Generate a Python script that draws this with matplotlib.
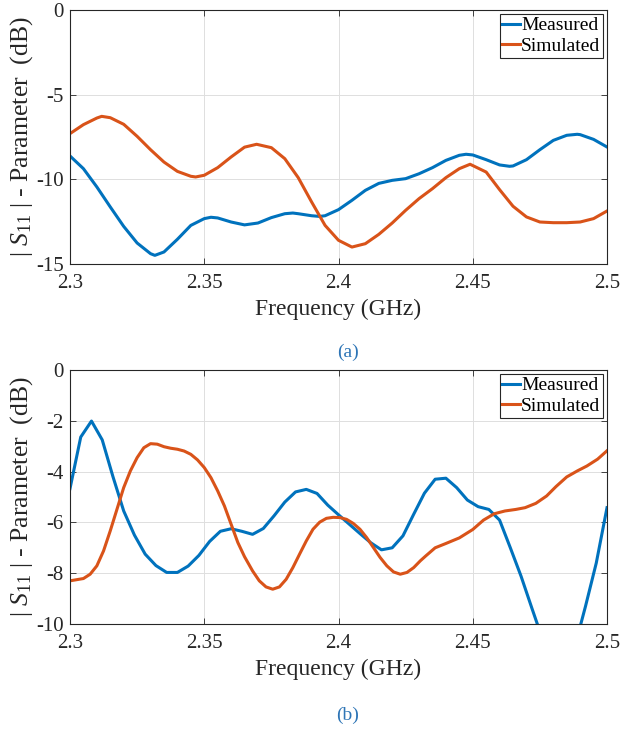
import numpy as np
import matplotlib
matplotlib.use("Agg")
import matplotlib.pyplot as plt
from matplotlib.ticker import FixedLocator, FixedFormatter

plt.rcParams['font.family'] = ['Liberation Serif', 'DejaVu Serif']
plt.rcParams['mathtext.fontset'] = 'custom'
plt.rcParams['mathtext.rm'] = 'Liberation Serif'
plt.rcParams['mathtext.it'] = 'Liberation Serif:italic'

# ---------------- data (a) ----------------
freq_meas_a = [2.300, 2.305, 2.310, 2.315, 2.320, 2.325, 2.330, 2.3316, 2.335, 2.340,
               2.345, 2.350, 2.3525, 2.355, 2.360, 2.365, 2.370, 2.375, 2.380, 2.383,
               2.385, 2.390, 2.393, 2.395, 2.400, 2.405, 2.410, 2.415, 2.420, 2.425,
               2.430, 2.435, 2.440, 2.445, 2.4475, 2.450, 2.455, 2.460, 2.4637, 2.465,
               2.470, 2.475, 2.480, 2.485, 2.4889, 2.490, 2.495, 2.500]
measured_a = [-8.62, -9.37, -10.45, -11.63, -12.78, -13.76, -14.39, -14.49, -14.29, -13.54,
              -12.72, -12.32, -12.24, -12.28, -12.52, -12.69, -12.58, -12.26, -12.03, -11.99,
              -12.03, -12.15, -12.19, -12.15, -11.79, -11.24, -10.65, -10.24, -10.06, -9.96,
              -9.67, -9.31, -8.88, -8.58, -8.52, -8.56, -8.84, -9.15, -9.23, -9.21,
              -8.84, -8.25, -7.70, -7.40, -7.34, -7.36, -7.64, -8.09]

freq_sim_a = [2.300, 2.305, 2.310, 2.3118, 2.315, 2.320, 2.325, 2.330, 2.335, 2.340,
              2.345, 2.3468, 2.350, 2.355, 2.360, 2.365, 2.3695, 2.375, 2.380, 2.385,
              2.390, 2.395, 2.400, 2.405, 2.410, 2.415, 2.420, 2.425, 2.430, 2.435,
              2.440, 2.445, 2.449, 2.455, 2.460, 2.465, 2.470, 2.475, 2.480, 2.485,
              2.490, 2.495, 2.500]
simulated_a = [-7.30, -6.77, -6.38, -6.28, -6.36, -6.75, -7.46, -8.25, -8.98, -9.53,
               -9.82, -9.86, -9.76, -9.31, -8.68, -8.10, -7.93, -8.13, -8.78, -9.90,
               -11.34, -12.72, -13.60, -14.00, -13.80, -13.25, -12.58, -11.83, -11.14, -10.55,
               -9.90, -9.37, -9.11, -9.57, -10.61, -11.59, -12.22, -12.52, -12.56, -12.56,
               -12.52, -12.32, -11.87]

# ---------------- data (b) ----------------
freq_meas_b = [2.300, 2.304, 2.308, 2.312, 2.316, 2.320, 2.324, 2.328, 2.332, 2.336,
               2.340, 2.344, 2.348, 2.352, 2.356, 2.360, 2.364, 2.368, 2.372, 2.376,
               2.380, 2.384, 2.388, 2.392, 2.396, 2.400, 2.404, 2.408, 2.412, 2.416,
               2.420, 2.424, 2.428, 2.432, 2.436, 2.440, 2.444, 2.448, 2.452, 2.456,
               2.460, 2.464, 2.468, 2.472, 2.476, 2.480, 2.484, 2.488, 2.492, 2.496, 2.500]
measured_b = [-4.67, -2.64, -2.01, -2.75, -4.20, -5.55, -6.50, -7.25, -7.70, -7.97,
              -7.97, -7.72, -7.30, -6.75, -6.35, -6.25, -6.35, -6.47, -6.24, -5.74,
              -5.20, -4.80, -4.70, -4.86, -5.32, -5.70, -6.07, -6.44, -6.80, -7.08,
              -7.00, -6.53, -5.68, -4.85, -4.30, -4.26, -4.63, -5.12, -5.38, -5.49,
              -5.91, -7.00, -8.12, -9.37, -10.60, -11.40, -11.60, -10.90, -9.30, -7.60, -5.42]

freq_sim_b = [2.300, 2.305, 2.3075, 2.310, 2.3125, 2.315, 2.3175, 2.320, 2.3225, 2.325,
              2.3275, 2.330, 2.3325, 2.335, 2.3375, 2.340, 2.3425, 2.345, 2.3475, 2.350,
              2.3525, 2.355, 2.3575, 2.360, 2.3625, 2.365, 2.368, 2.3705, 2.373, 2.3755,
              2.378, 2.3805, 2.383, 2.3855, 2.388, 2.3905, 2.393, 2.3955, 2.398, 2.4005,
              2.403, 2.4055, 2.408, 2.4105, 2.413, 2.4155, 2.418, 2.4205, 2.423, 2.4255,
              2.428, 2.4305, 2.4325, 2.436, 2.440, 2.445, 2.450, 2.454, 2.458, 2.462,
              2.466, 2.4695, 2.4735, 2.4775, 2.481, 2.485, 2.489, 2.4925, 2.4965, 2.500]
simulated_b = [-8.30, -8.21, -8.04, -7.71, -7.12, -6.33, -5.48, -4.63, -3.97, -3.45,
               -3.06, -2.90, -2.92, -3.02, -3.08, -3.12, -3.19, -3.32, -3.54, -3.84,
               -4.24, -4.76, -5.35, -6.07, -6.79, -7.35, -7.91, -8.30, -8.54, -8.63,
               -8.54, -8.24, -7.78, -7.25, -6.73, -6.27, -5.99, -5.84, -5.80, -5.81,
               -5.88, -6.04, -6.27, -6.60, -6.99, -7.38, -7.71, -7.95, -8.04, -7.97,
               -7.78, -7.51, -7.32, -7.00, -6.83, -6.61, -6.28, -5.91, -5.66, -5.55,
               -5.49, -5.42, -5.25, -4.96, -4.59, -4.21, -3.97, -3.78, -3.51, -3.18]

xticks = [2.3, 2.35, 2.4, 2.45, 2.5]
xticklabels = ['2.3', '2.35', '2.4', '2.45', '2.5']
yticks_a = [-15, -10, -5, 0]
yticklabels_a = ['-15', '-10', '-5', '0']
yticks_b = [-10, -8, -6, -4, -2, 0]
yticklabels_b = ['-10', '-8', '-6', '-4', '-2', '0']

BLUE = '#0072BD'
ORANGE = '#D95319'
CAPTION = '#2E75B6'
DARK = '#262626'

fig = plt.figure(figsize=(6.2, 7.31), dpi=100)
W, H = 620, 731

def make_axes(top_px, bottom_px):
    return fig.add_axes([70 / W, 1 - bottom_px / H, 537 / W, (bottom_px - top_px) / H])

ax_a = make_axes(10, 264)
ax_b = make_axes(370, 624)

panels = [
    (ax_a, freq_meas_a, measured_a, freq_sim_a, simulated_a, (-15, 0), yticks_a, yticklabels_a),
    (ax_b, freq_meas_b, measured_b, freq_sim_b, simulated_b, (-10, 0), yticks_b, yticklabels_b),
]

for ax, fm, m, fs, s, ylim, yt, ytl in panels:
    ax.plot(fm, m, color=BLUE, lw=2.2, label='Measured', solid_joinstyle='round')
    ax.plot(fs, s, color=ORANGE, lw=2.2, label='Simulated', solid_joinstyle='round')
    ax.set_xlim(2.3, 2.5)
    ax.set_ylim(*ylim)
    ax.xaxis.set_major_locator(FixedLocator(xticks))
    ax.xaxis.set_major_formatter(FixedFormatter(xticklabels))
    ax.yaxis.set_major_locator(FixedLocator(yt))
    ax.yaxis.set_major_formatter(FixedFormatter(ytl))
    ax.tick_params(direction='in', length=4, width=0.6, labelsize=15,
                   top=True, right=True, colors=DARK)
    ax.tick_params(axis='x', pad=7.5)
    ax.tick_params(axis='y', pad=4.5)
    for sp in ax.spines.values():
        sp.set_linewidth(0.8)
        sp.set_color(DARK)
    ax.grid(True, color='#DEDEDE', lw=0.7)
    ax.set_axisbelow(True)
    ax.set_xlabel('Frequency (GHz)', fontsize=17, labelpad=4, color=DARK)
    ax.set_ylabel(r'$|\ S_{11}\ |$ - Parameter  (dB)', fontsize=18.5, labelpad=1, color=DARK)
    leg = ax.legend(loc='upper right', fontsize=14, handlelength=0.9, handletextpad=0.05,
                    borderpad=0.15, labelspacing=0.15, borderaxespad=0.2,
                    fancybox=False, framealpha=1)
    leg.get_frame().set_edgecolor(DARK)
    leg.get_frame().set_linewidth(0.8)

fig.text(348 / W, 1 - 352 / H, '(a)', ha='center', va='center', fontsize=14, color=CAPTION)
fig.text(348 / W, 1 - 715 / H, '(b)', ha='center', va='center', fontsize=14, color=CAPTION)

fig.savefig('out.png', dpi=100)
